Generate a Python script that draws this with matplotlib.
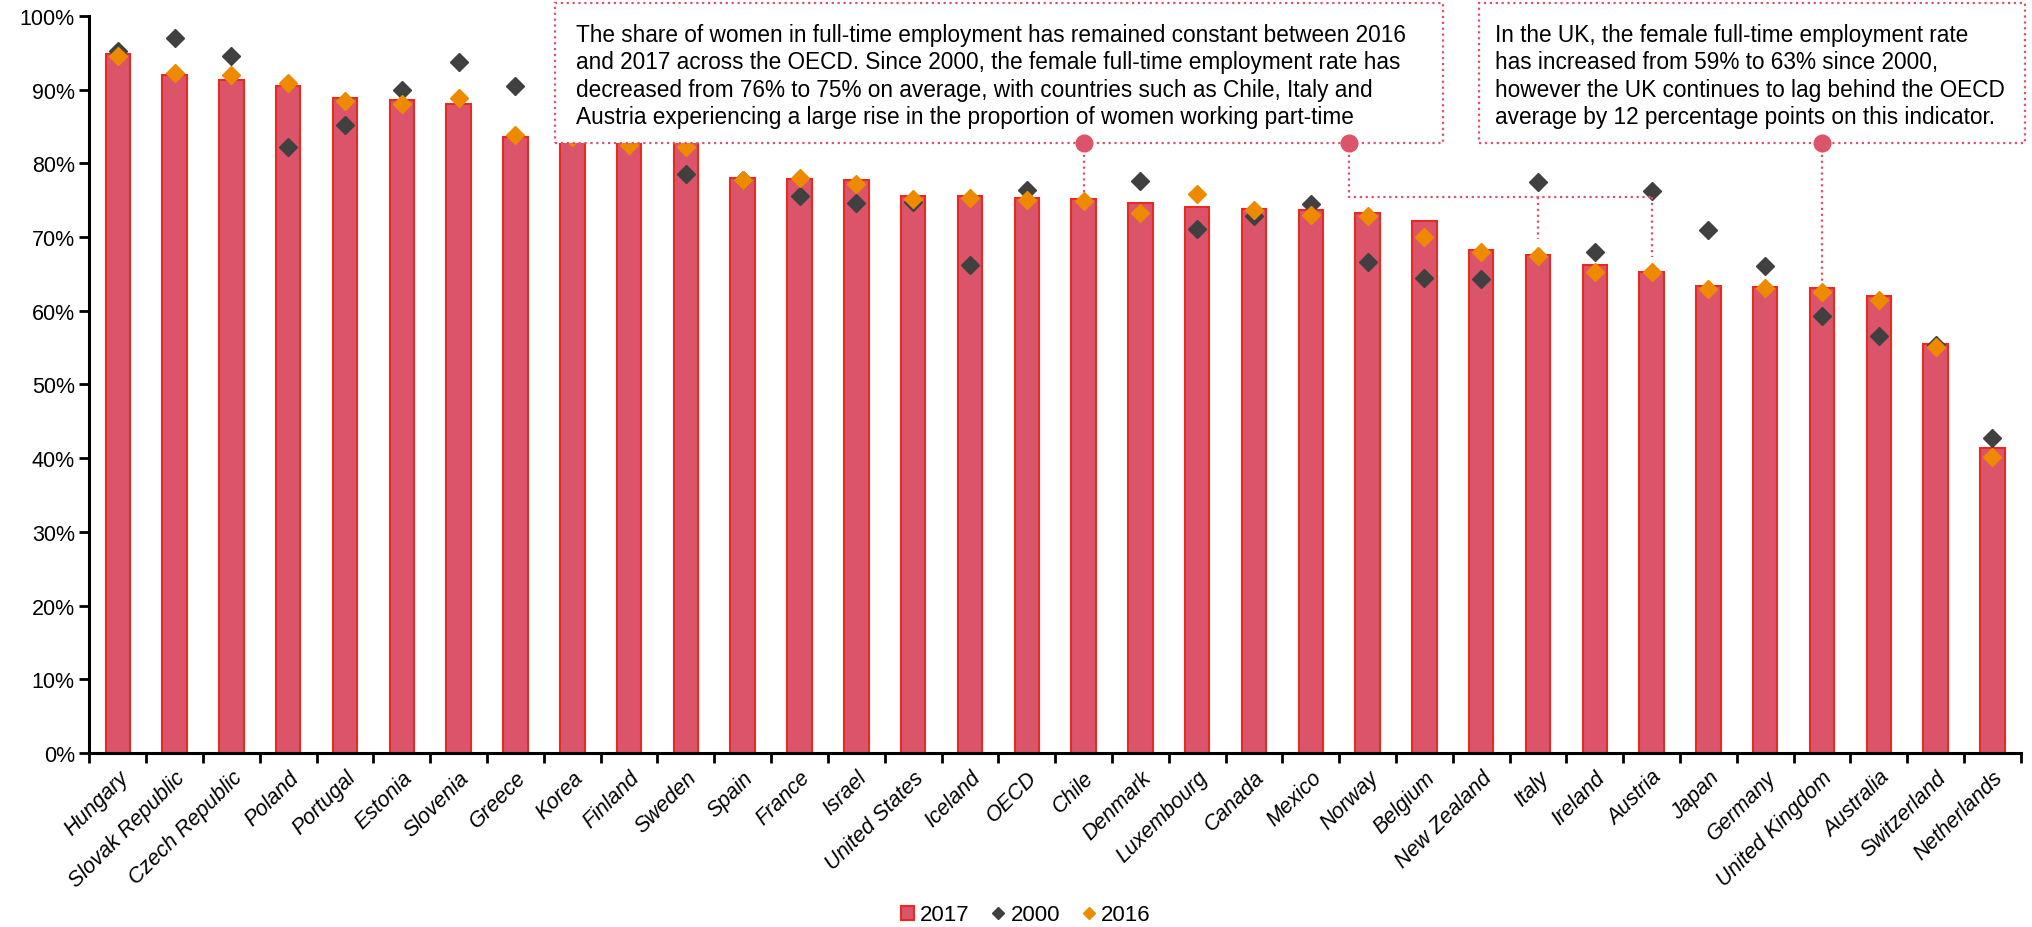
import numpy as np
import matplotlib
matplotlib.use("Agg")
import matplotlib.pyplot as plt
from matplotlib.patches import Rectangle, Patch
from matplotlib.lines import Line2D
from matplotlib.ticker import FixedLocator, PercentFormatter

plt.rcParams['font.family'] = ['Liberation Sans', 'DejaVu Sans']

# female full-time employment share, % of female employment
countries = ["Hungary", "Slovak Republic", "Czech Republic", "Poland", "Portugal",
             "Estonia", "Slovenia", "Greece", "Korea", "Finland", "Sweden", "Spain",
             "France", "Israel", "United States", "Iceland", "OECD", "Chile", "Denmark",
             "Luxembourg", "Canada", "Mexico", "Norway", "Belgium", "New Zealand",
             "Italy", "Ireland", "Austria", "Japan", "Germany", "United Kingdom",
             "Australia", "Switzerland", "Netherlands"]
share_2017 = [94.8, 92.0, 91.3, 90.5, 88.9, 88.6, 88.1, 83.6, 83.4, 83.1, 82.9, 78.0,
              77.9, 77.7, 75.6, 75.6, 75.3, 75.2, 74.6, 74.1, 73.8, 73.6, 73.3, 72.2,
              68.3, 67.6, 66.2, 65.3, 63.3, 63.2, 63.1, 62.0, 55.5, 41.4]
share_2000 = [95.3, 97.0, 94.5, 82.2, 85.2, 90.0, 93.8, 90.5, 86.0, 85.0, 78.6, 77.7,
              75.6, 74.6, 74.7, 66.2, 76.4, np.nan, 77.6, 71.1, 72.8, 74.5, 66.6, 64.4,
              64.3, 77.4, 68.0, 76.2, 71.0, 66.1, 59.3, 56.5, 55.4, 42.7]
share_2016 = [94.5, 92.3, 92.0, 90.9, 88.5, 88.0, 88.8, 83.9, 83.6, 82.5, 82.2, 77.7,
              78.0, 77.2, 75.1, 75.3, 75.0, 74.9, 73.3, 75.8, 73.6, 73.0, 72.9, 70.0,
              67.9, 67.4, 65.2, 65.3, 62.9, 63.1, 62.5, 61.5, 55.1, 40.2]

note_oecd = ["The share of women in full-time employment has remained constant between 2016",
             "and 2017 across the OECD. Since 2000, the female full-time employment rate has",
             "decreased from 76% to 75% on average, with countries such as Chile, Italy and",
             "Austria experiencing a large rise in the proportion of women working part-time"]
note_uk = ["In the UK, the female full-time employment rate",
           "has increased from 59% to 63% since 2000,",
           "however the UK continues to lag behind the OECD",
           "average by 12 percentage points on this indicator."]

BAR = '#DC5469'
BAR_EDGE = '#E52B23'
DARK = '#404040'
ORANGE = '#EE8A00'
NOTE = '#E0506A'

W, H = 2033, 928
fig = plt.figure(figsize=(W / 100, H / 100), dpi=100)
ax = fig.add_axes([0.044, 0.1876, 0.950, 0.7942])

x = np.arange(len(countries))
ax.bar(x, share_2017, width=0.43, color=BAR, edgecolor=BAR_EDGE, linewidth=1.5, zorder=2)
ax.plot(x, share_2000, 'D', color=DARK, ms=9, ls='none', zorder=3)
ax.plot(x, share_2016, 'D', color=ORANGE, ms=9, ls='none', zorder=4)

ax.set_xlim(-0.5, len(countries) - 0.5)
ax.set_ylim(0, 100)
ax.yaxis.set_major_locator(FixedLocator(np.arange(0, 101, 10)))
ax.yaxis.set_major_formatter(PercentFormatter(decimals=0))
ax.set_xticks(np.arange(len(countries) + 1) - 0.5)
ax.set_xticklabels([])
ax.set_xticks(x, minor=True)
ax.set_xticklabels(countries, minor=True, rotation=45, ha='right',
                   rotation_mode='anchor', style='italic', fontsize=15.5)
ax.tick_params(axis='x', which='minor', length=0, pad=10)
ax.tick_params(axis='x', which='major', length=7, width=2)
ax.tick_params(axis='y', length=7, width=2, labelsize=15.5)
for s in ['top', 'right']:
    ax.spines[s].set_visible(False)
for s in ['left', 'bottom']:
    ax.spines[s].set_linewidth(2.2)

# note boxes (data coords, drawn past the axes top)
box_bottom = 82.7
for x0, x1 in [(7.70, 23.33), (23.96, 33.58)]:
    ax.add_patch(Rectangle((x0, box_bottom), x1 - x0, 101.7 - box_bottom,
                           facecolor='white', edgecolor=NOTE, linestyle=':',
                           linewidth=1.6, clip_on=False, zorder=6))

# note text, one line at a time (pixel baselines)
for left, lines in [(576, note_oecd), (1495, note_uk)]:
    for i, line in enumerate(lines):
        fig.text(left / W, 1 - (42.2 + 27.3 * i) / H, line, fontsize=16.3,
                 ha='left', va='baseline', zorder=8)

# connectors
chile, italy, austria, uk = (countries.index(c) for c in ["Chile", "Italy", "Austria", "United Kingdom"])
bracket_y = 75.4
mid_x = 21.67
kw = dict(ls=':', color=NOTE, lw=1.6, zorder=3.5)
ax.plot([chile, chile], [box_bottom, share_2017[chile] + 0.4], **kw)
ax.plot([mid_x, mid_x, austria], [box_bottom, bracket_y, bracket_y], **kw)
ax.plot([italy, italy], [bracket_y, share_2017[italy] + 2.1], **kw)
ax.plot([austria, austria], [bracket_y, share_2017[austria] + 2.0], **kw)
ax.plot([uk, uk], [box_bottom, share_2017[uk] + 0.5], **kw)
ax.plot([chile, mid_x, uk], [box_bottom] * 3, 'o', ms=12, color=BAR, ls='none',
        clip_on=False, zorder=7)

handles = [Patch(facecolor=BAR, edgecolor=BAR_EDGE, linewidth=1.5),
           Line2D([], [], marker='D', ls='none', color=DARK, ms=6),
           Line2D([], [], marker='D', ls='none', color=ORANGE, ms=6)]
fig.legend(handles, ['2017', '2000', '2016'], loc='center',
           bbox_to_anchor=(1026 / W, 1 - 916 / H), ncol=3, frameon=False,
           fontsize=16, handlelength=0.6, handleheight=0.6, handletextpad=0.25,
           columnspacing=1.0)

fig.savefig('out.png', dpi=100)
